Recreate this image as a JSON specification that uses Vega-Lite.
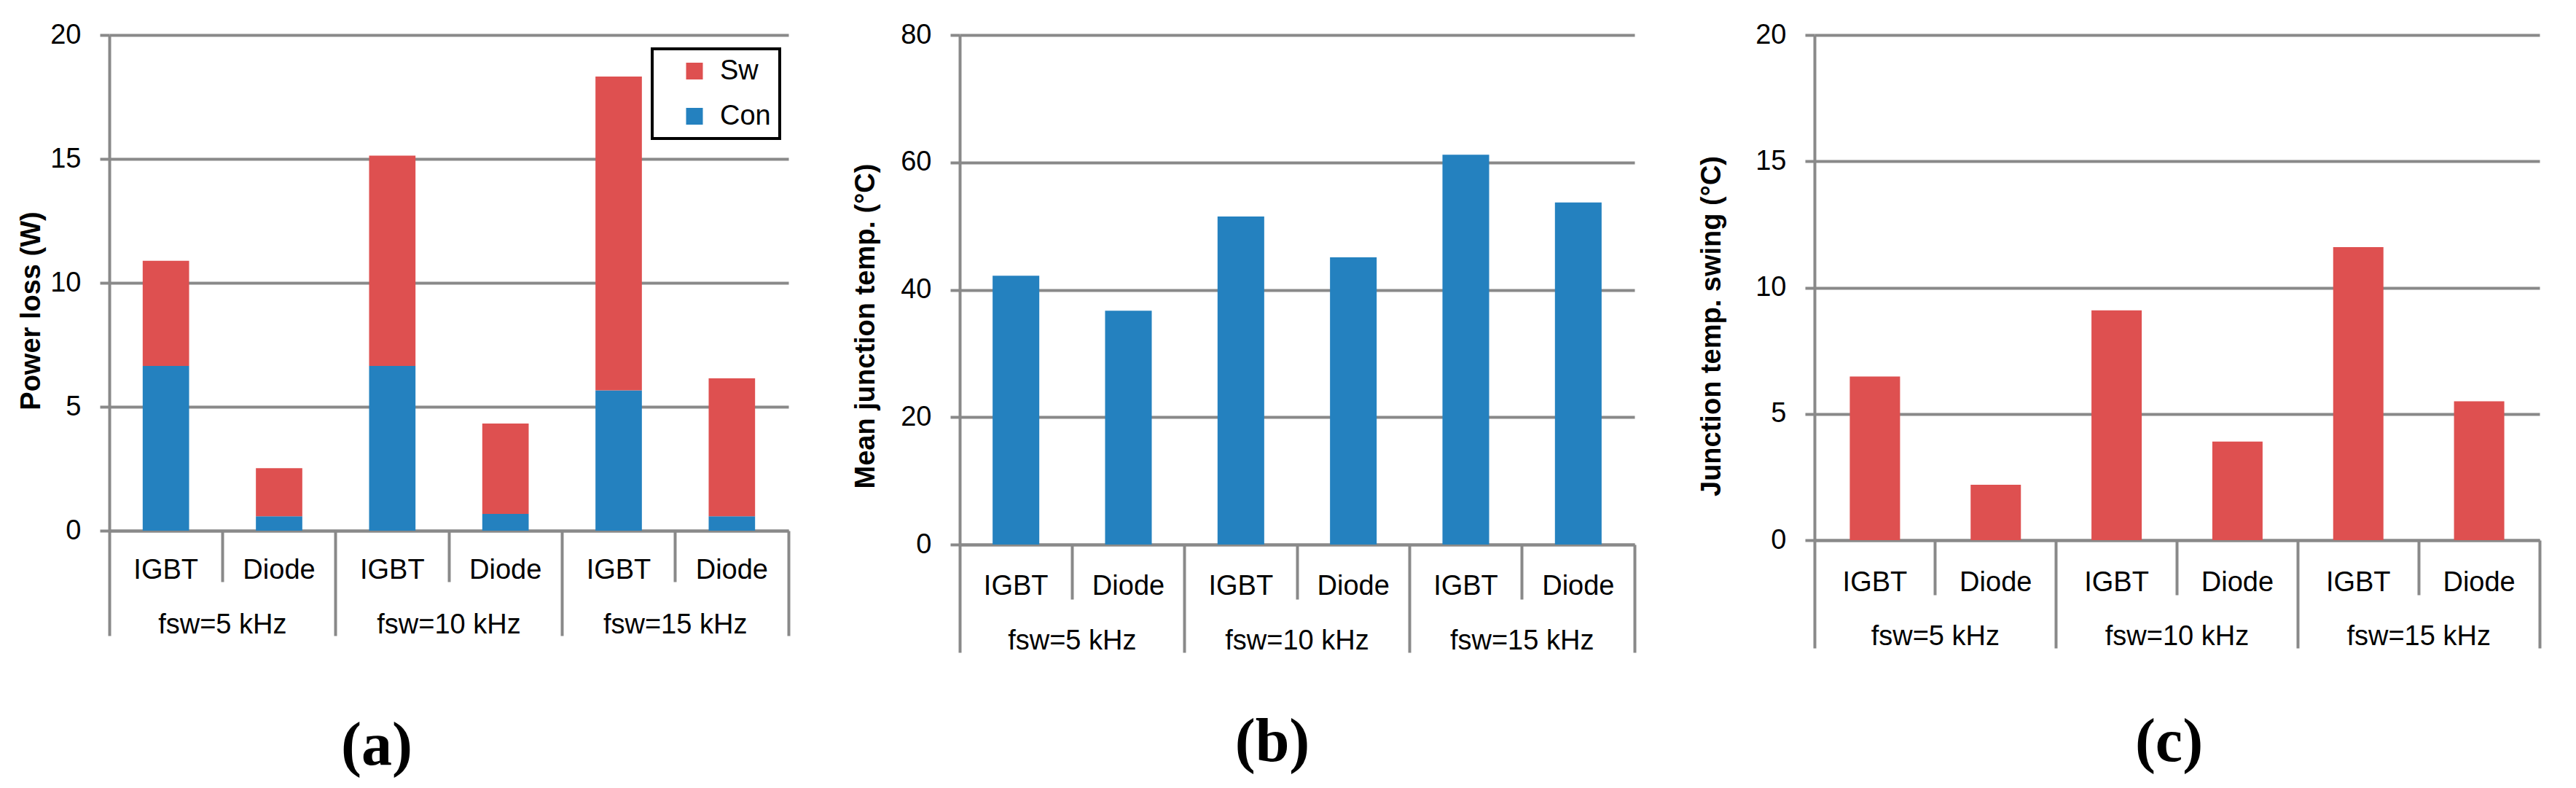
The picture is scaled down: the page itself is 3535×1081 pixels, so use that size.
{
  "$schema": "https://vega.github.io/schema/vega-lite/v6.json",
  "background": "white",
  "padding": {"left": 24, "top": 29, "right": 20, "bottom": 10},
  "datasets": {
    "loss": [
      {"cat": "fsw=5 kHz|IGBT", "part": "Con", "value": 6.65},
      {"cat": "fsw=5 kHz|IGBT", "part": "Sw", "value": 4.24},
      {"cat": "fsw=5 kHz|Diode", "part": "Con", "value": 0.58},
      {"cat": "fsw=5 kHz|Diode", "part": "Sw", "value": 1.94},
      {"cat": "fsw=10 kHz|IGBT", "part": "Con", "value": 6.65},
      {"cat": "fsw=10 kHz|IGBT", "part": "Sw", "value": 8.48},
      {"cat": "fsw=10 kHz|Diode", "part": "Con", "value": 0.68},
      {"cat": "fsw=10 kHz|Diode", "part": "Sw", "value": 3.64},
      {"cat": "fsw=15 kHz|IGBT", "part": "Con", "value": 5.66},
      {"cat": "fsw=15 kHz|IGBT", "part": "Sw", "value": 12.66},
      {"cat": "fsw=15 kHz|Diode", "part": "Con", "value": 0.58},
      {"cat": "fsw=15 kHz|Diode", "part": "Sw", "value": 5.57}
    ],
    "mean": [
      {"cat": "fsw=5 kHz|IGBT", "value": 42.2},
      {"cat": "fsw=5 kHz|Diode", "value": 36.7},
      {"cat": "fsw=10 kHz|IGBT", "value": 51.5},
      {"cat": "fsw=10 kHz|Diode", "value": 45.1},
      {"cat": "fsw=15 kHz|IGBT", "value": 61.2},
      {"cat": "fsw=15 kHz|Diode", "value": 53.7}
    ],
    "swing": [
      {"cat": "fsw=5 kHz|IGBT", "value": 6.48},
      {"cat": "fsw=5 kHz|Diode", "value": 2.19},
      {"cat": "fsw=10 kHz|IGBT", "value": 9.1},
      {"cat": "fsw=10 kHz|Diode", "value": 3.9},
      {"cat": "fsw=15 kHz|IGBT", "value": 11.6},
      {"cat": "fsw=15 kHz|Diode", "value": 5.5}
    ]
  },
  "hconcat": [
    {
      "width": 932,
      "height": 680,
      "data": {"name": "loss"},
      "title": {"text": "(a)", "orient": "bottom", "frame": "group", "anchor": "middle", "dx": -99, "offset": 107},
      "resolve": {"axis": {"x": "independent"}},
      "encoding": {
        "y": {"field": "value", "type": "quantitative", "stack": "zero",
          "scale": {"domain": [0, 20]},
          "axis": {"title": "Power loss (W)", "values": [0, 5, 10, 15, 20], "titleX": -107, "titleY": 378}}
      },
      "layer": [
        {
          "mark": {"type": "bar", "width": {"band": 0.41}},
          "encoding": {
            "x": {"field": "cat", "type": "nominal", "sort": null,
              "scale": {"paddingInner": 0, "paddingOuter": 0},
              "axis": {"orient": "bottom", "title": null, "ticks": false, "labelExpr": "split(datum.label, '|')[1]", "labelPadding": 65, "labelBaseline": "alphabetic"}},
            "color": {"field": "part", "type": "nominal",
              "scale": {"domain": ["Sw", "Con"], "range": ["#DE5050", "#2481BF"]},
              "legend": {"title": null, "orient": "none", "legendX": 745, "legendY": 19}},
            "order": {"field": "part", "sort": "ascending"}
          }
        },
        {
          "mark": {"type": "bar", "opacity": 0},
          "encoding": {
            "x": {"field": "cat", "type": "nominal", "sort": null,
              "axis": {"orient": "bottom", "title": null, "values": ["fsw=5 kHz|Diode", "fsw=10 kHz|Diode", "fsw=15 kHz|Diode"], "bandPosition": 0, "tickSize": 70, "domain": false, "labelExpr": "split(datum.label, '|')[0]", "labelPadding": 70, "labelOffset": -77.67, "labelBaseline": "alphabetic"}}
          }
        },
        {
          "mark": {"type": "bar", "opacity": 0},
          "encoding": {
            "x": {"field": "cat", "type": "nominal", "sort": null,
              "axis": {"orient": "bottom", "title": null, "values": ["fsw=5 kHz|IGBT", "fsw=10 kHz|IGBT", "fsw=15 kHz|IGBT"], "bandPosition": 0, "tickSize": 144, "domain": false, "labels": false}}
          }
        },
        {
          "mark": {"type": "bar", "opacity": 0},
          "encoding": {
            "x": {"field": "cat", "type": "nominal", "sort": null,
              "axis": {"orient": "bottom", "title": null, "values": ["fsw=15 kHz|Diode"], "bandPosition": 1, "tickSize": 144, "domain": false, "labels": false}}
          }
        }
      ]
    },
    {
      "width": 926,
      "height": 699,
      "data": {"name": "mean"},
      "title": {"text": "(b)", "orient": "bottom", "frame": "group", "anchor": "middle", "dx": -34, "offset": 80},
      "resolve": {"axis": {"x": "independent"}},
      "encoding": {
        "y": {"field": "value", "type": "quantitative",
          "scale": {"domain": [0, 80]},
          "axis": {"title": "Mean junction temp. (°C)", "values": [0, 20, 40, 60, 80], "titleX": -129, "titleY": 399}}
      },
      "layer": [
        {
          "mark": {"type": "bar", "width": {"band": 0.415}, "color": "#2481BF"},
          "encoding": {
            "x": {"field": "cat", "type": "nominal", "sort": null,
              "scale": {"paddingInner": 0, "paddingOuter": 0},
              "axis": {"orient": "bottom", "title": null, "ticks": false, "labelExpr": "split(datum.label, '|')[1]", "labelPadding": 68, "labelBaseline": "alphabetic"}}
          }
        },
        {
          "mark": {"type": "bar", "opacity": 0},
          "encoding": {
            "x": {"field": "cat", "type": "nominal", "sort": null,
              "axis": {"orient": "bottom", "title": null, "values": ["fsw=5 kHz|Diode", "fsw=10 kHz|Diode", "fsw=15 kHz|Diode"], "bandPosition": 0, "tickSize": 75, "domain": false, "labelExpr": "split(datum.label, '|')[0]", "labelPadding": 68, "labelOffset": -77.17, "labelBaseline": "alphabetic"}}
          }
        },
        {
          "mark": {"type": "bar", "opacity": 0},
          "encoding": {
            "x": {"field": "cat", "type": "nominal", "sort": null,
              "axis": {"orient": "bottom", "title": null, "values": ["fsw=5 kHz|IGBT", "fsw=10 kHz|IGBT", "fsw=15 kHz|IGBT"], "bandPosition": 0, "tickSize": 148, "domain": false, "labels": false}}
          }
        },
        {
          "mark": {"type": "bar", "opacity": 0},
          "encoding": {
            "x": {"field": "cat", "type": "nominal", "sort": null,
              "axis": {"orient": "bottom", "title": null, "values": ["fsw=15 kHz|Diode"], "bandPosition": 1, "tickSize": 148, "domain": false, "labels": false}}
          }
        }
      ]
    },
    {
      "width": 995,
      "height": 693,
      "data": {"name": "swing"},
      "title": {"text": "(c)", "orient": "bottom", "frame": "group", "anchor": "middle", "dx": -11, "offset": 86},
      "resolve": {"axis": {"x": "independent"}},
      "encoding": {
        "y": {"field": "value", "type": "quantitative",
          "scale": {"domain": [0, 20]},
          "axis": {"title": "Junction temp. swing (°C)", "values": [0, 5, 10, 15, 20], "titleX": -141, "titleY": 399}}
      },
      "layer": [
        {
          "mark": {"type": "bar", "width": {"band": 0.416}, "color": "#DE5050"},
          "encoding": {
            "x": {"field": "cat", "type": "nominal", "sort": null,
              "scale": {"paddingInner": 0, "paddingOuter": 0},
              "axis": {"orient": "bottom", "title": null, "ticks": false, "labelExpr": "split(datum.label, '|')[1]", "labelPadding": 69, "labelBaseline": "alphabetic"}}
          }
        },
        {
          "mark": {"type": "bar", "opacity": 0},
          "encoding": {
            "x": {"field": "cat", "type": "nominal", "sort": null,
              "axis": {"orient": "bottom", "title": null, "values": ["fsw=5 kHz|Diode", "fsw=10 kHz|Diode", "fsw=15 kHz|Diode"], "bandPosition": 0, "tickSize": 75, "domain": false, "labelExpr": "split(datum.label, '|')[0]", "labelPadding": 68, "labelOffset": -82.92, "labelBaseline": "alphabetic"}}
          }
        },
        {
          "mark": {"type": "bar", "opacity": 0},
          "encoding": {
            "x": {"field": "cat", "type": "nominal", "sort": null,
              "axis": {"orient": "bottom", "title": null, "values": ["fsw=5 kHz|IGBT", "fsw=10 kHz|IGBT", "fsw=15 kHz|IGBT"], "bandPosition": 0, "tickSize": 148, "domain": false, "labels": false}}
          }
        },
        {
          "mark": {"type": "bar", "opacity": 0},
          "encoding": {
            "x": {"field": "cat", "type": "nominal", "sort": null,
              "axis": {"orient": "bottom", "title": null, "values": ["fsw=15 kHz|Diode"], "bandPosition": 1, "tickSize": 148, "domain": false, "labels": false}}
          }
        }
      ]
    }
  ],
  "spacing": 85,
  "config": {
    "view": {"stroke": null},
    "font": "Liberation Sans",
    "axis": {
      "labelFont": "Liberation Sans", "labelFontSize": 38, "labelColor": "black",
      "titleFont": "Liberation Sans", "titleFontSize": 38, "titleFontWeight": "bold", "titleColor": "black",
      "domainColor": "#898989", "domainWidth": 4,
      "tickColor": "#898989", "tickWidth": 4,
      "gridColor": "#898989", "gridWidth": 4,
      "labelLimit": 500
    },
    "axisY": {"tickSize": 13, "labelPadding": 26, "grid": true, "titleAngle": 270, "titleBaseline": "middle", "titleAlign": "center"},
    "axisX": {"grid": false, "labelAngle": 0},
    "legend": {
      "labelFont": "Liberation Sans", "labelFontSize": 38, "labelColor": "black",
      "symbolType": "square", "symbolSize": 529, "symbolStrokeWidth": 0,
      "strokeColor": "black", "strokeWidth": 4, "fillColor": "white",
      "padding": 11.5, "symbolOffset": 27.5, "labelOffset": 16, "rowPadding": 24
    },
    "title": {"font": "Liberation Serif", "fontSize": 84, "fontWeight": "bold", "color": "black"}
  }
}
